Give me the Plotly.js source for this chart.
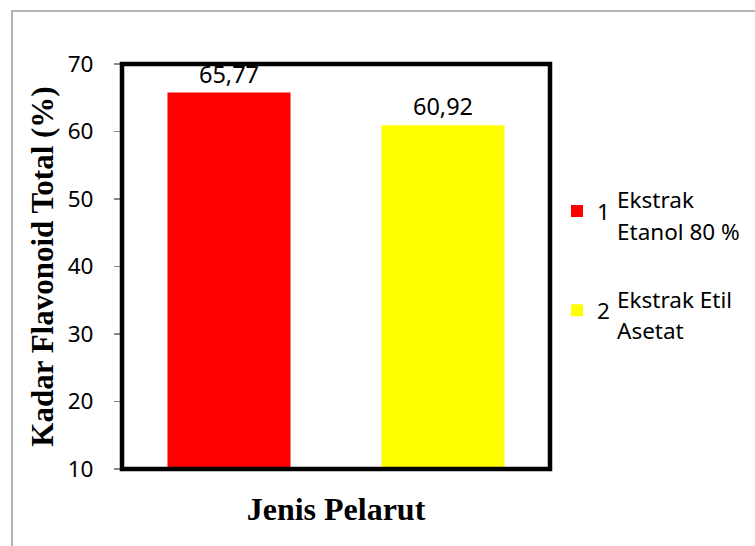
<!DOCTYPE html>
<html>
<head>
<meta charset="utf-8">
<script src="https://cdn.plot.ly/plotly-3.0.1.min.js"></script>
<style>html,body{margin:0;padding:0;background:#fff;}#chart{width:755px;height:546px;}</style>
</head>
<body>
<div id="chart"></div>
<script>
const categories = ["1", "2"];
const values = [65.77, 60.92];
const seriesNames = ["1", "2"];
const legendTexts = [["Ekstrak", "Etanol 80 %"], ["Ekstrak Etil", "Asetat"]];
const colors = ["#FF0000", "#FFFF00"];
const yTicks = [10, 20, 30, 40, 50, 60, 70];
const yTitle = "Kadar Flavonoid Total (%)";
const xTitle = "Jenis Pelarut";

const L = 122, R = 550, T = 64, B = 469.5;
const W = 755, H = 546;
const pw = R - L, ph = B - T;
const px = x => (x - L) / pw;
const py = y => (B - y) / ph;

const traces = categories.map((c, i) => ({
  type: "bar",
  x: [c],
  y: [values[i]],
  base: 0,
  name: seriesNames[i],
  legendgroup: "g" + i,
  marker: {color: colors[i], line: {width: 0}},
  width: 0.575,
  texttemplate: "%{y:.2f}",
  textposition: "outside",
  cliponaxis: false,
  textfont: {family: "Noto Sans", size: 23.5, color: "#000"},
  hoverinfo: "none"
}));

const annotations = [];
const lineY = [[200, 232], [300, 331]];
legendTexts.forEach((lines, i) => {
  lines.forEach((t, j) => {
    annotations.push({
      xref: "paper", yref: "paper",
      x: px(615), y: py(lineY[i][j]),
      xanchor: "left", yanchor: "middle",
      text: t, showarrow: false,
      font: {family: "Noto Sans", size: 22.5, color: "#000"}
    });
  });
});

const layout = {
  width: W, height: H,
  margin: {l: L, r: W - R, t: T, b: H - B, pad: 0},
  paper_bgcolor: "#fff",
  plot_bgcolor: "#fff",
  barmode: "overlay",
  separators: ",.",
  showlegend: true,
  legend: {
    x: px(557), y: py(190), xanchor: "left", yanchor: "top",
    font: {family: "Noto Sans", size: 22.5, color: "#000"},
    traceorder: "grouped",
    tracegroupgap: 67,
    bgcolor: "rgba(0,0,0,0)"
  },
  xaxis: {
    type: "category",
    range: [-0.5, 1.5],
    showticklabels: false,
    ticks: "",
    showgrid: false,
    zeroline: false,
    showline: false,
    title: {text: xTitle, font: {family: "Liberation Serif", size: 32, color: "#000", weight: "bold"}, standoff: 28}
  },
  yaxis: {
    range: [10, 70],
    tickvals: yTicks,
    ticktext: yTicks.map(String),
    ticks: "outside",
    ticklen: 7,
    tickcolor: "#888",
    tickwidth: 1.5,
    ticklabelstandoff: 16,
    showgrid: false,
    zeroline: false,
    showline: true,
    linecolor: "#888",
    linewidth: 1,
    tickfont: {family: "Noto Sans", size: 22.5, color: "#000"},
    title: {text: yTitle, font: {family: "Liberation Serif", size: 31, color: "#000", weight: "bold"}, standoff: 4}
  },
  shapes: [
    {type: "rect", xref: "paper", yref: "paper", x0: 0, x1: 1, y0: 0, y1: 1,
     line: {color: "#000", width: 4.5}, fillcolor: "rgba(0,0,0,0)", layer: "above"},
    {type: "rect", xref: "paper", yref: "paper", x0: px(12), x1: px(900), y0: py(700), y1: py(11),
     line: {color: "#999", width: 1.5}, fillcolor: "rgba(0,0,0,0)", layer: "below"}
  ],
  annotations: annotations
};

Plotly.newPlot("chart", traces, layout, {staticPlot: true, displayModeBar: false});
</script>
</body>
</html>
